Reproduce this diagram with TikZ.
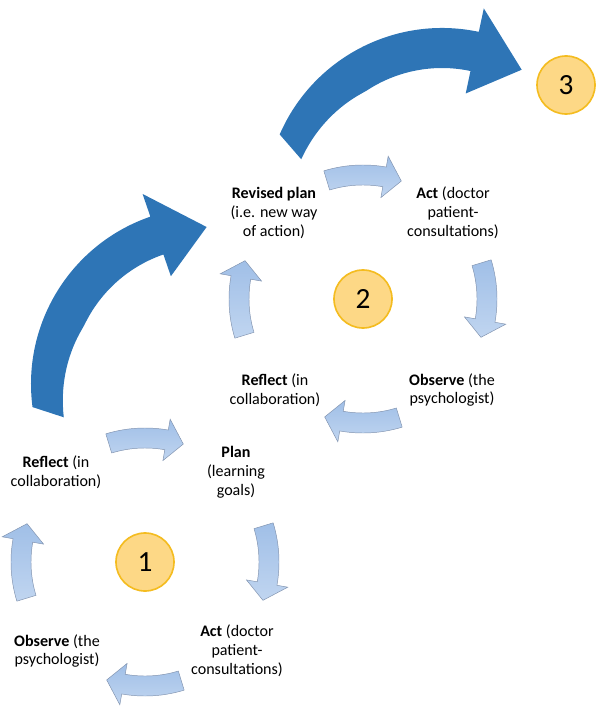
\documentclass[tikz,border=0pt]{standalone}
\usepackage{fontspec}
\setmainfont{Carlito}

\definecolor{bigblue}{RGB}{46,117,182}
\definecolor{cyctop}{RGB}{160,191,231}
\definecolor{cycbot}{RGB}{192,213,240}
\definecolor{cycline}{RGB}{128,146,174}
\definecolor{stagefill}{RGB}{253,216,134}
\definecolor{stageline}{RGB}{244,188,32}

% small curved arrow of a cycle: #1 centre node, #2 tail angle
\newcommand{\cyclearrow}[2]{%
  \draw[cycarrow, shift={(#1)}]
    ({#2}:134) arc[start angle={#2}, end angle={#2+27}, radius=134]
    -- ({#2+27}:145) -- ({#2+35}:124) -- ({#2+27}:103)
    -- ({#2+27}:114) arc[start angle={#2+27}, end angle={#2}, radius=114]
    -- cycle;
}
% big arrow from one cycle to the next: #1 centre, #2 turn
\newcommand{\bigarrow}[2]{%
  \fill[bigblue, shift={#1}]
    ({172.5+#2}:177) arc[start angle={172.5+#2}, end angle={251+#2}, radius=177]
    -- ({251+#2}:201) -- ({269.5+#2}:157) -- ({251+#2}:114)
    -- plot[domain=251:167, samples=40] ({\x+#2}:{137+0.29*max(0,205-\x)})
    -- cycle;
}

\begin{document}
\begin{tikzpicture}[
    x=0.3mm, y=-0.3mm,
    phasetext/.style={align=center, font=\fontsize{13.7}{16.2}\selectfont},
    stage/.style={circle, draw=stageline, line width=1.4pt, fill=stagefill,
      minimum size=17.4mm, inner sep=0pt, font=\fontsize{25}{30}\selectfont},
    cycarrow/.style={draw=cycline, line width=0.4pt, top color=cyctop, bottom color=cycbot}
  ]
  \useasboundingbox (0,0) rectangle (596,708);

  % stage numbers
  \node[stage] (c1) at (145,562) {1};
  \node[stage] (c2) at (363,299) {2};
  \node[stage] (c3) at (566,85)  {3};

  % first cycle
  \node[phasetext] (rfl1) at (56,472)  {\textbf{Reflect} (in\\collaboration)};
  \node[phasetext] (plan1) at (236,472) {\textbf{Plan}\\(learning\\goals)};
  \node[phasetext] (act1) at (237,651) {\textbf{Act} (doctor\\patient-\\consultations)};
  \node[phasetext] (obs1) at (57,651)  {\textbf{Observe} (the\\psychologist)};

  % second cycle
  \node[phasetext] (rev2) at (274,213) {\textbf{Revised plan}\\(i.e. new way\\of action)};
  \node[phasetext] (act2) at (453,213) {\textbf{Act} (doctor\\patient-\\consultations)};
  \node[phasetext] (obs2) at (452,390) {\textbf{Observe} (the\\psychologist)};
  \node[phasetext] (rfl2) at (275,390) {\textbf{Reflect} (in\\collaboration)};

  \foreach \a in {253,343,73,163} {
    \cyclearrow{c1}{\a}
    \cyclearrow{c2}{\a}
  }

  \bigarrow{(208,384)}{0}
  \bigarrow{(442,205)}{31}
\end{tikzpicture}
\end{document}
